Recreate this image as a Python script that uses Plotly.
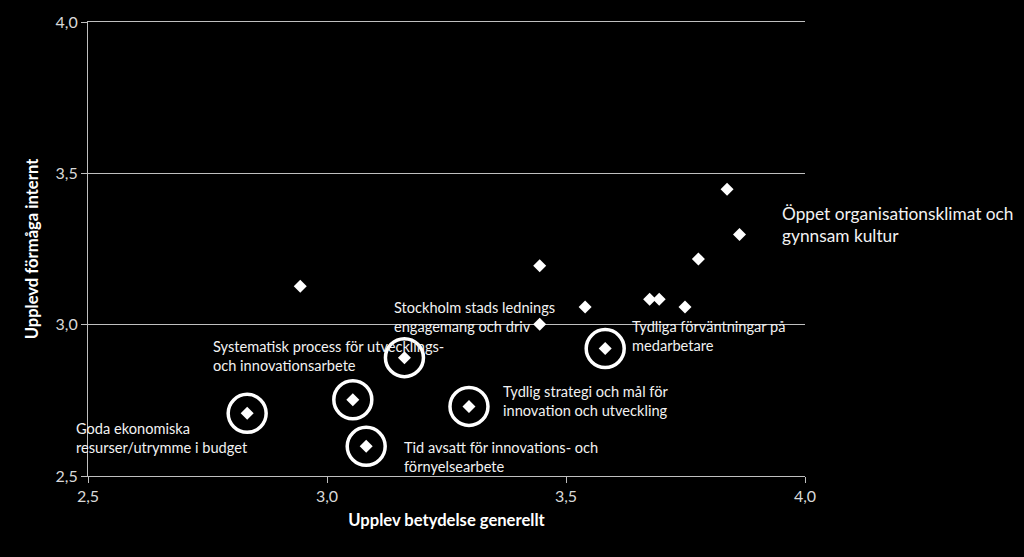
import plotly.graph_objects as go

# Punkter (betydelse generellt, förmåga internt)
x_all = [2.944, 3.445, 3.445, 3.540, 3.675, 3.695, 3.749, 3.777, 3.837, 3.863,
         3.582, 3.162, 3.297, 2.833, 3.054, 3.082]
y_all = [3.127, 3.195, 3.001, 3.058, 3.084, 3.084, 3.058, 3.217, 3.447, 3.298,
         2.921, 2.891, 2.730, 2.707, 2.752, 2.598]

# Inringade punkter
x_ring = [3.582, 3.162, 3.297, 2.833, 3.054, 3.082]
y_ring = [2.921, 2.891, 2.730, 2.707, 2.752, 2.598]

labels = [
    "Öppet organisationsklimat och<br>gynnsam kultur",
    "Stockholm stads lednings<br>engagemang och driv",
    "Tydliga förväntningar på<br>medarbetare",
    "Tydlig strategi och mål för<br>innovation och utveckling",
    "Tid avsatt för innovations- och<br>förnyelsearbete",
    "Systematisk process för utvecklings-<br>och innovationsarbete",
    "Goda ekonomiska<br>resurser/utrymme i budget",
]

# label placement in pixels (left edge, vertical centre) and font size
label_pos = [(780, 223, 17.3), (392, 316, 14.6), (630, 335, 14.6), (501, 401, 14.6),
             (402, 457, 14.6), (211, 355, 14.6), (74, 438, 14.6)]

L, R, T, B = 88, 805, 19, 476
W, H = 1024, 557

fig = go.Figure()
fig.add_trace(go.Scatter(x=x_all, y=y_all, mode="markers",
                         marker=dict(symbol="diamond", size=10, color="white"),
                         showlegend=False, cliponaxis=False))
fig.add_trace(go.Scatter(x=x_ring, y=y_ring, mode="markers",
                         marker=dict(symbol="circle-open", size=38, color="white",
                                     line=dict(width=3.5, color="white")),
                         showlegend=False, cliponaxis=False))

for txt, (px, py, fs) in zip(labels, label_pos):
    fig.add_annotation(text=txt, xref="paper", yref="paper",
                       x=(px - L) / (R - L), y=(B - py) / (B - T),
                       xanchor="left", yanchor="middle", align="left",
                       showarrow=False, font=dict(family="Lato", size=fs, color="#f2f2f2"))

fig.update_layout(
    width=W, height=H,
    paper_bgcolor="black", plot_bgcolor="black",
    margin=dict(l=L, r=W - R, t=T, b=H - B),
    separators=", ",
    font=dict(family="Lato", color="#d9d9d9"),
    showlegend=False,
)
fig.update_xaxes(range=[2.5, 4.0], dtick=0.5, tickformat=".1f", showgrid=False,
                 zeroline=False, showline=True, mirror=True, linecolor="#bfbfbf", linewidth=1,
                 ticks="outside", ticklen=6, tickcolor="#bfbfbf",
                 tickfont=dict(size=16, color="#d9d9d9"),
                 title=dict(text="<b>Upplev betydelse generellt</b>",
                            font=dict(size=16.6, color="white"), standoff=10))
fig.update_yaxes(range=[2.5, 4.0], dtick=0.5, tickformat=".1f", showgrid=True,
                 gridcolor="#bfbfbf", gridwidth=1,
                 zeroline=False, showline=True, linecolor="#bfbfbf", linewidth=1,
                 ticks="outside", ticklen=6, tickcolor="#bfbfbf",
                 tickfont=dict(size=16, color="#d9d9d9"),
                 title=dict(text="<b>Upplevd förmåga internt</b>",
                            font=dict(size=16.6, color="white"), standoff=12))

fig.write_html("out.html", config={"displayModeBar": False},
               post_script="document.body.style.margin='0px';")
